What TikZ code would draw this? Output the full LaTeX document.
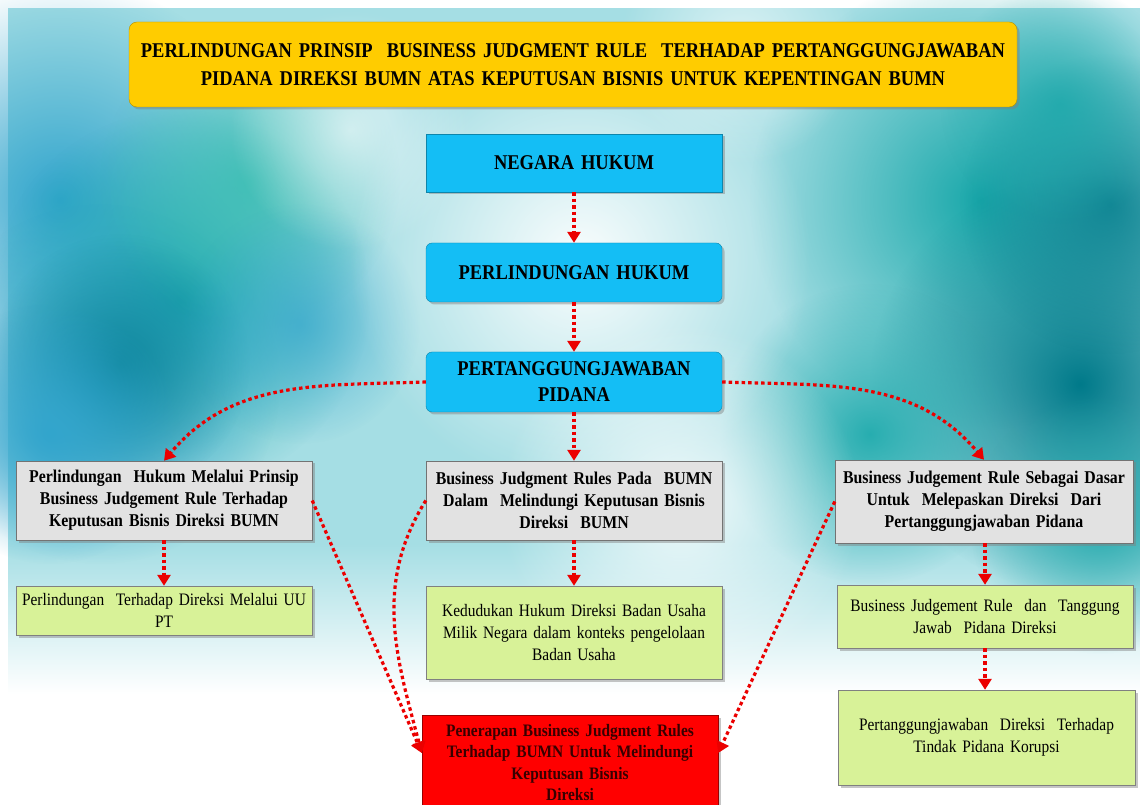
\documentclass[tikz,border=0pt]{standalone}
\usepackage{fontspec}
\setmainfont{Liberation Serif}[FakeStretch=0.88, WordSpace=0.8]
\usetikzlibrary{arrows.meta,positioning,shadows,fadings}

\definecolor{judulkuning}{RGB}{255,204,0}
\definecolor{birubox}{RGB}{20,190,245}
\definecolor{abubox}{RGB}{226,226,226}
\definecolor{hijaubox}{RGB}{216,242,152}
\definecolor{merahbox}{RGB}{255,0,0}
\definecolor{panahmerah}{RGB}{235,0,0}
\definecolor{tekmerah}{RGB}{55,0,0}
\definecolor{latar}{RGB}{165,222,228}
\definecolor{tealgelap}{RGB}{0,122,138}
\definecolor{tealsedang}{RGB}{25,168,170}
\definecolor{birulaut}{RGB}{50,165,205}
\definecolor{hijaulaut}{RGB}{60,190,180}

\tikzfading[name=bulat, inner color=transparent!0, outer color=transparent!100]

\begin{document}
\begin{tikzpicture}[x=1pt, y=1pt,
    kotak/.style={draw, align=center, text width=288pt, inner xsep=4pt,
      drop shadow={shadow xshift=2.5pt, shadow yshift=-2.5pt, opacity=.45}},
    judul/.style={kotak, fill=judulkuning, draw=judulkuning!70!black, rounded corners=8pt,
      text width=880pt, minimum height=85pt, font=\bfseries\fontsize{21}{28}\selectfont},
    biru/.style={kotak, fill=birubox, draw=birubox!70!black, font=\bfseries\fontsize{21}{26}\selectfont},
    abu/.style={kotak, fill=abubox, draw=black!55, minimum height=79pt,
      font=\bfseries\fontsize{18}{22}\selectfont},
    hijau/.style={kotak, fill=hijaubox, draw=black!50, font=\fontsize{17.5}{22}\selectfont},
    merah/.style={kotak, fill=merahbox, draw=merahbox!60!black, text=tekmerah, inner ysep=9pt,
      font=\bfseries\fontsize{17.5}{21.5}\selectfont},
    panah/.style={draw=panahmerah, line width=3.2pt, dash pattern=on 3.5pt off 3pt,
      -{Triangle[width=13pt,length=11pt]}}
  ]
  \useasboundingbox (0,0) rectangle (1140,804);
  \clip (0,0) rectangle (1140,804);

  % latar belakang
  \fill[white] (0,0) rectangle (1140,804);
  \fill[latar] (8,260) rectangle (1140,796);
  \shade[top color=latar, bottom color=white] (8,110) rectangle (1140,260);
  \foreach \x/\y/\r/\c/\o in {60/604/220/birulaut/1, 180/504/190/tealsedang/1,
      100/420/180/birulaut/1, 250/624/150/hijaulaut/.9, 120/440/130/tealgelap/.7,
      300/480/120/birulaut/.7, 50/370/130/birulaut/1,
      980/604/230/tealsedang/1, 1080/420/210/tealgelap/1, 870/370/150/tealsedang/.9,
      1100/280/130/tealsedang/.8, 1110/600/150/tealgelap/.8, 1060/700/120/tealsedang/.8,
      580/544/230/white/.95, 680/300/180/white/.85, 350/674/120/white/.6, 740/760/120/white/.6} {
    \fill[\c, opacity=\o, path fading=bulat] (\x,\y) circle (\r);
  }

  % judul
  \node[judul] (jdl) at (573,739.5) {PERLINDUNGAN PRINSIP\ \ BUSINESS JUDGMENT RULE\ \ TERHADAP PERTANGGUNGJAWABAN\\
    PIDANA DIREKSI BUMN ATAS KEPUTUSAN BISNIS UNTUK KEPENTINGAN BUMN};

  % kolom tengah atas
  \node[biru, minimum height=58pt] (nh) at (574,641) {NEGARA HUKUM};
  \node[biru, rounded corners=6pt, minimum height=59pt] (ph) at (574,531.5) {PERLINDUNGAN HUKUM};
  \node[biru, rounded corners=6pt, minimum height=60pt] (pp) at (574,422) {PERTANGGUNGJAWABAN\\PIDANA};

  % baris abu-abu
  \node[abu] (lg) at (164,303.5) {Perlindungan\ \ Hukum Melalui Prinsip\\Business Judgement Rule Terhadap\\Keputusan Bisnis Direksi BUMN};
  \node[abu] (mg) at (574,303.5) {Business Judgment Rules Pada\ \ BUMN\\Dalam\ \ Melindungi Keputusan Bisnis\\Direksi\ \ BUMN};
  \node[abu, text width=290pt, minimum height=83pt] (rg) at (984,302.5) {Business Judgement Rule Sebagai Dasar\\Untuk\ \ Melepaskan Direksi\ \ Dari\\Pertanggungjawaban Pidana};

  % baris hijau
  \node[hijau, minimum height=49pt] (lh) at (164,193.5) {Perlindungan\ \ Terhadap Direksi Melalui UU\\PT};
  \node[hijau, minimum height=93pt] (mh) at (574,171.5) {Kedudukan Hukum Direksi Badan Usaha\\Milik Negara dalam konteks pengelolaan\\Badan Usaha};
  \node[hijau, minimum height=63pt] (rh1) at (985,187.5) {Business Judgement Rule\ \ dan\ \ Tanggung\\Jawab\ \ Pidana Direksi};
  \node[hijau, text width=289pt, minimum height=95pt] (rh2) at (986.5,66.5) {Pertanggungjawaban\ \ Direksi\ \ Terhadap\\Tindak Pidana Korupsi};

  % kotak merah
  \node[merah, anchor=north] (pen) at (570,89) {Penerapan Business Judgment Rules\\Terhadap BUMN Untuk Melindungi\\Keputusan Bisnis\\Direksi};

  % panah
  \draw[panah] (nh) -- (ph);
  \draw[panah] (ph) -- (pp);
  \draw[panah] (pp) -- (mg);
  \draw[panah] (lg) -- (lh);
  \draw[panah] (mg) -- (mh);
  \draw[panah] (rg.south -| rh1) -- (rh1);
  \draw[panah] (rh1) -- (rh1 |- rh2.north);
  \draw[panah] (pp.west) to[out=182,in=50] (lg.north);
  \draw[panah] (pp.east) to[out=-2,in=130] (rg.north);
  \draw[panah] (lg.east) -- ([yshift=-38pt]pen.north west);
  \draw[panah] (mg.west) to[out=238,in=105] ([yshift=-38pt]pen.north west);
  \draw[panah] (rg.west) -- ([yshift=-38pt]pen.north east);
\end{tikzpicture}
\end{document}
